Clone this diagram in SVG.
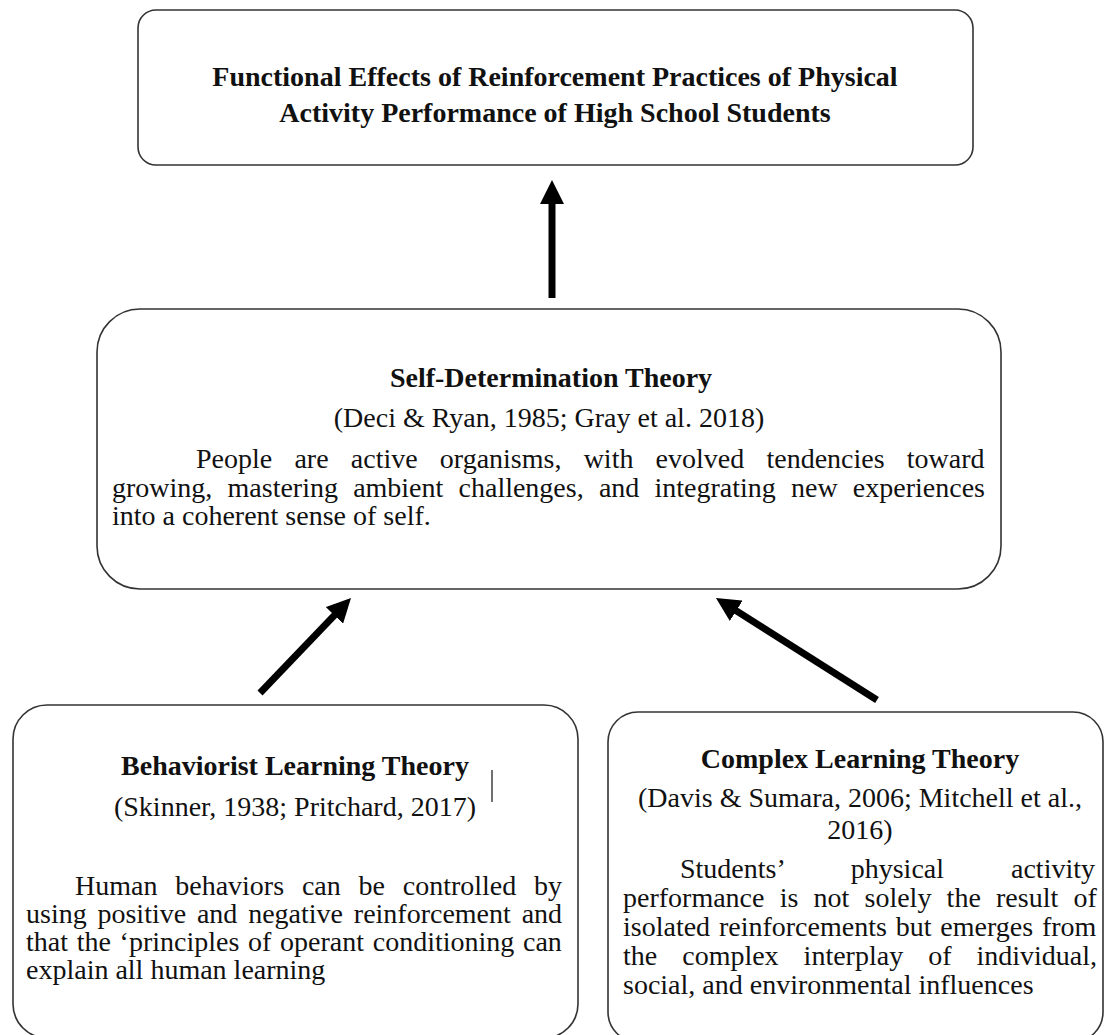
<svg xmlns="http://www.w3.org/2000/svg" width="1105" height="1035" viewBox="0 0 1105 1035">
  <defs>
    <style>
      .box { fill: #ffffff; stroke: #333333; stroke-width: 1.6; }
      .t { font-family: "Liberation Serif", "Times New Roman", serif; font-size: 28px; fill: #111111; }
      .b { font-weight: bold; }
      .c { text-anchor: middle; }
      .arrow { stroke: #000000; stroke-width: 7; fill: none; marker-end: url(#head); }
    </style>
    <marker id="head" viewBox="0 0 24 24" markerWidth="24" markerHeight="24" refX="12" refY="12" orient="auto" markerUnits="userSpaceOnUse">
      <path d="M0,0 L24,12 L0,24 z" fill="#000000"/>
    </marker>
  </defs>
  <rect width="1105" height="1035" fill="#ffffff"/>

  <g id="connectors">
    <line class="arrow" x1="552" y1="298" x2="552" y2="192"/>
    <line class="arrow" x1="260" y1="693" x2="342.7" y2="606.7"/>
    <line class="arrow" x1="877" y1="700" x2="726.1" y2="604.4"/>
  </g>

  <g id="node-outcome">
    <rect class="box" x="138" y="10" width="835" height="155" rx="18"/>
    <text class="t b c" x="555" y="86">Functional Effects of Reinforcement Practices of Physical</text>
    <text class="t b c" x="555" y="122">Activity Performance of High School Students</text>
  </g>

  <g id="node-sdt">
    <rect class="box" x="97" y="309" width="904" height="280" rx="43"/>
    <text class="t b c" x="551" y="387">Self-Determination Theory</text>
    <text class="t c" x="549" y="427">(Deci &amp; Ryan, 1985; Gray et al. 2018)</text>
    <text class="t" x="196" y="468" word-spacing="15.2">People are active organisms, with evolved tendencies toward</text>
    <text class="t" x="112" y="497" word-spacing="8.2">growing, mastering ambient challenges, and integrating new experiences</text>
    <text class="t" x="112" y="525">into a coherent sense of self.</text>
  </g>

  <g id="node-behaviorist">
    <rect class="box" x="13" y="705" width="565" height="333" rx="34"/>
    <text class="t b c" x="295" y="775">Behaviorist Learning Theory</text>
    <text class="t c" x="295" y="816">(Skinner, 1938; Pritchard, 2017)</text>
    <line x1="492" y1="770" x2="492" y2="802" stroke="#111111" stroke-width="1.2"/>
    <text class="t" x="75" y="895" word-spacing="10.8">Human behaviors can be controlled by</text>
    <text class="t" x="26" y="923" word-spacing="3.8">using positive and negative reinforcement and</text>
    <text class="t" x="26" y="951" word-spacing="1.7">that the ‘principles of operant conditioning can</text>
    <text class="t" x="26" y="979">explain all human learning</text>
  </g>

  <g id="node-complex">
    <rect class="box" x="608" y="712" width="495" height="330" rx="30"/>
    <text class="t b c" x="860" y="768">Complex Learning Theory</text>
    <text class="t c" x="860" y="807">(Davis &amp; Sumara, 2006; Mitchell et al.,</text>
    <text class="t c" x="860" y="839">2016)</text>
    <text class="t" x="680" y="878" word-spacing="60">Students’ physical activity</text>
    <text class="t" x="623" y="907" word-spacing="8.2">performance is not solely the result of</text>
    <text class="t" x="623" y="936" word-spacing="1.85">isolated reinforcements but emerges from</text>
    <text class="t" x="623" y="965" word-spacing="18">the complex interplay of individual,</text>
    <text class="t" x="623" y="994">social, and environmental influences</text>
  </g>
</svg>
